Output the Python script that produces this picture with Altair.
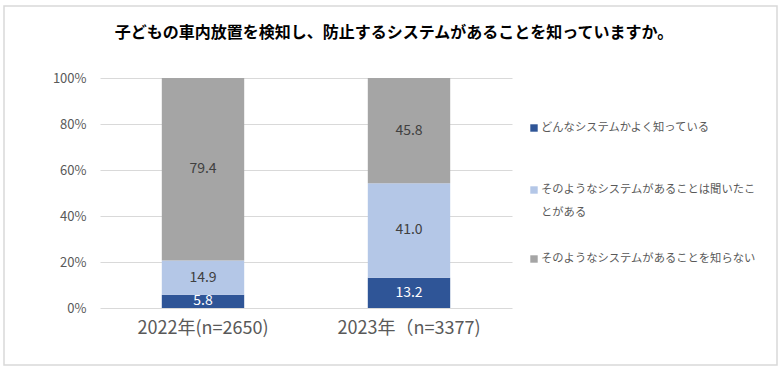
import altair as alt
import pandas as pd

years = ["2022年(n=2650)", "2023年（n=3377)"]
categories = ["どんなシステムかよく知っている",
              "そのようなシステムがあることは聞いたことがある",
              "そのようなシステムがあることを知らない"]
values_2022 = [5.8, 14.9, 79.4]
values_2023 = [13.2, 41.0, 45.8]
colors = ["#2F5597", "#B4C7E7", "#A5A5A5"]
label_colors = ["#FFFFFF", "#404040", "#404040"]
legend_lines = [["どんなシステムかよく知っている"],
                ["そのようなシステムがあることは聞いたこ", "とがある"],
                ["そのようなシステムがあることを知らない"]]
title_text = "子どもの車内放置を検知し、防止するシステムがあることを知っていますか。"

rows = []
for y, vals in zip(years, [values_2022, values_2023]):
    for i, (c, v) in enumerate(zip(categories, vals)):
        rows.append({"year": y, "category": c, "value": v, "order": i,
                     "label": f"{v:.1f}", "lc": label_colors[i]})
df = pd.DataFrame(rows)

FONT = "Noto Sans CJK JP"
W, H = 412, 230

xenc = alt.X("year:N", sort=years,
             scale=alt.Scale(paddingInner=0.6, paddingOuter=0.3),
             axis=alt.Axis(title=None, labelAngle=0, labelFontSize=18, labelColor="#595959",
                           labelFont=FONT, ticks=False, domain=False, labelPadding=11))

base = alt.Chart(df)

bars = base.mark_bar().encode(
    x=xenc,
    y=alt.Y("value:Q", stack="normalize",
            scale=alt.Scale(domain=[0, 1]),
            axis=alt.Axis(title=None, format=".0%", values=[0, 0.2, 0.4, 0.6, 0.8, 1.0],
                          labelFontSize=13, labelColor="#595959", labelFont=FONT,
                          ticks=False, domain=False, gridColor="#D9D9D9", labelPadding=14)),
    color=alt.Color("category:N", sort=categories,
                    scale=alt.Scale(domain=categories, range=colors), legend=None),
    order=alt.Order("order:Q", sort="ascending"),
)

texts = base.transform_stack(
    stack="value", groupby=["year"], as_=["v0", "v1"], offset="normalize",
    sort=[alt.SortField("order", order="ascending")]
).transform_calculate(
    mid="(datum.v0 + datum.v1) / 2"
).mark_text(font=FONT, fontSize=14, baseline="middle").encode(
    x=alt.X("year:N", sort=years),
    y=alt.Y("mid:Q"),
    text="label:N",
    color=alt.Color("lc:N", scale=None),
)

frame = alt.Chart(pd.DataFrame({"a": [0]})).mark_rect(
    fill=None, stroke="#D9D9D9", strokeWidth=1.5
).encode(x=alt.value(-96), x2=alt.value(677), y=alt.value(-72), y2=alt.value(287))

title = alt.Chart(pd.DataFrame({"t": [title_text]})).mark_text(
    font=FONT, fontSize=16, fontWeight="bold", color="#000000", align="center", baseline="middle"
).encode(x=alt.value(294), y=alt.value(-45), text="t:N")

legend_layers = []
ys = [50, 112, 181]
for i, lines in enumerate(legend_lines):
    legend_layers.append(
        alt.Chart(pd.DataFrame({"a": [0]})).mark_square(size=55, color=colors[i], opacity=1).encode(
            x=alt.value(434), y=alt.value(ys[i]))
    )
    for j, ln in enumerate(lines):
        legend_layers.append(
            alt.Chart(pd.DataFrame({"t": [ln]})).mark_text(
                font=FONT, fontSize=11.3, color="#595959", align="left", baseline="middle"
            ).encode(x=alt.value(441), y=alt.value(ys[i] + 23 * j), text="t:N")
        )

chart = alt.layer(frame, bars, texts, title, *legend_layers).properties(
    width=W, height=H,
    autosize=alt.AutoSizeParams(type="none"),
    padding={"left": 100, "top": 78, "right": 270, "bottom": 67},
    background="white",
).configure_view(stroke=None)

chart.save("out.html", embed_options={"renderer": "svg", "actions": False})
